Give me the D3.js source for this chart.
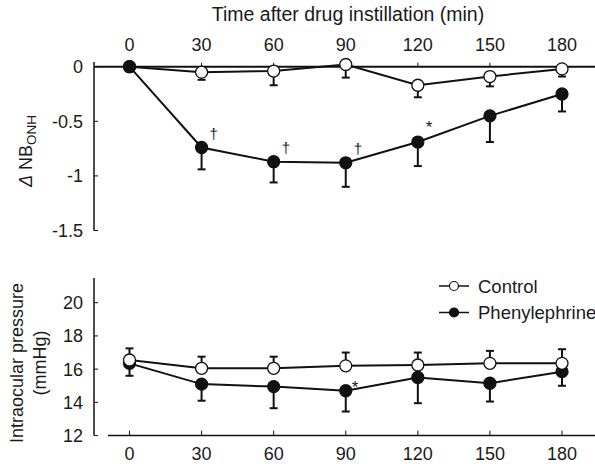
<!DOCTYPE html>
<html>
<head>
<meta charset="utf-8">
<script src="https://cdn.jsdelivr.net/npm/d3@7"></script>
<style>
  body { margin: 0; background: #fff; }
  text { font-family: "Liberation Sans", Arial, sans-serif; fill: #1a1a1a; }
</style>
</head>
<body>
<div id="chart"></div>
<script>
// data
const times = [0, 30, 60, 90, 120, 150, 180];
const nbControl = [0, -0.05, -0.04, 0.02, -0.17, -0.09, -0.02];
const nbControlSd = [0, 0.07, 0.13, 0.12, 0.11, 0.09, 0.07];
const nbPhenyl = [0, -0.74, -0.87, -0.88, -0.69, -0.45, -0.25];
const nbPhenylSd = [0, 0.2, 0.19, 0.22, 0.22, 0.24, 0.16];
const nbMarks = [["†", 30], ["†", 60], ["†", 90], ["*", 120]];
const iopControl = [16.55, 16.05, 16.05, 16.2, 16.25, 16.35, 16.35];
const iopControlSd = [0.7, 0.7, 0.7, 0.8, 0.75, 0.75, 0.85];
const iopPhenyl = [16.35, 15.1, 14.95, 14.7, 15.5, 15.15, 15.85];
const iopPhenylSd = [0.75, 1.0, 1.3, 1.25, 1.55, 1.1, 0.85];
const iopMarks = [["*", 90]];
const nbTicks = [0, -0.5, -1, -1.5];
const iopTicks = [12, 14, 16, 18, 20];

const W = 595, H = 464;
const svg = d3.select("#chart").append("svg").attr("width", W).attr("height", H);

const x = d3.scaleLinear().domain([0, 180]).range([129.5, 562]);
const yTop = d3.scaleLinear().domain([0, -1.5]).range([66.7, 230.5]);
const yBot = d3.scaleLinear().domain([12, 20]).range([435.6, 302.7]);

const ink = "#111";
const fs = 18;

// ---- top panel axes
svg.append("line").attr("x1", 94).attr("x2", 94).attr("y1", 62).attr("y2", yTop(-1.5))
  .attr("stroke", ink).attr("stroke-width", 1.5);
svg.append("line").attr("x1", 94).attr("x2", 595).attr("y1", yTop(0)).attr("y2", yTop(0))
  .attr("stroke", ink).attr("stroke-width", 2);
svg.selectAll(".ttop").data(times).join("line")
  .attr("x1", d => x(d)).attr("x2", d => x(d)).attr("y1", yTop(0)).attr("y2", yTop(0) - 4)
  .attr("stroke", ink).attr("stroke-width", 1);
svg.selectAll(".ltop").data(times).join("text")
  .attr("x", d => x(d)).attr("y", 51).attr("text-anchor", "middle")
  .attr("font-size", fs).text(d => d);
svg.selectAll(".ytop").data(nbTicks).join("line")
  .attr("x1", 94).attr("x2", 98).attr("y1", d => yTop(d)).attr("y2", d => yTop(d))
  .attr("stroke", ink).attr("stroke-width", 1);
svg.selectAll(".yltop").data(nbTicks).join("text")
  .attr("x", 83).attr("y", d => yTop(d) + 6.5).attr("text-anchor", "end")
  .attr("font-size", fs).text(d => d);
svg.append("text").attr("x", 348).attr("y", 21).attr("text-anchor", "middle")
  .attr("font-size", 19.5).text("Time after drug instillation (min)");
const lab = svg.append("text").attr("transform", "translate(32,151) rotate(-90)")
  .attr("text-anchor", "middle").attr("font-size", fs);
lab.append("tspan").attr("font-style", "italic").text("Δ");
lab.append("tspan").text(" NB");
lab.append("tspan").attr("font-size", 13.5).attr("dy", 4).text("ONH");

// ---- bottom panel axes
svg.append("line").attr("x1", 94).attr("x2", 94).attr("y1", 278).attr("y2", yBot(12))
  .attr("stroke", ink).attr("stroke-width", 1.5);
svg.append("line").attr("x1", 108).attr("x2", 595).attr("y1", yBot(12)).attr("y2", yBot(12))
  .attr("stroke", ink).attr("stroke-width", 1.5);
svg.selectAll(".tbot").data(times).join("line")
  .attr("x1", d => x(d)).attr("x2", d => x(d)).attr("y1", yBot(12)).attr("y2", yBot(12) - 5)
  .attr("stroke", ink).attr("stroke-width", 1);
svg.selectAll(".lbot").data(times).join("text")
  .attr("x", d => x(d)).attr("y", 460).attr("text-anchor", "middle")
  .attr("font-size", fs).text(d => d);
svg.selectAll(".ybot").data(iopTicks).join("line")
  .attr("x1", 94).attr("x2", 98).attr("y1", d => yBot(d)).attr("y2", d => yBot(d))
  .attr("stroke", ink).attr("stroke-width", 1);
svg.selectAll(".ylbot").data(iopTicks).join("text")
  .attr("x", 83).attr("y", d => yBot(d) + 6.5).attr("text-anchor", "end")
  .attr("font-size", fs).text(d => d);
svg.append("text").attr("transform", "translate(23,363) rotate(-90)")
  .attr("text-anchor", "middle").attr("font-size", fs).text("Intraocular pressure");
svg.append("text").attr("transform", "translate(46,363) rotate(-90)")
  .attr("text-anchor", "middle").attr("font-size", fs).text("(mmHg)");

// ---- series drawing helper
function series(y, vals, sds, dir, filled) {
  const g = svg.append("g");
  const pts = times.map((t, i) => ({ t, v: vals[i], sd: sds[i] }));
  g.selectAll(".err").data(pts.filter(p => p.sd > 0)).join("line")
    .attr("x1", d => x(d.t)).attr("x2", d => x(d.t))
    .attr("y1", d => y(d.v)).attr("y2", d => y(d.v + dir * d.sd))
    .attr("stroke", ink).attr("stroke-width", 2);
  g.selectAll(".cap").data(pts.filter(p => p.sd > 0)).join("line")
    .attr("x1", d => x(d.t) - 4).attr("x2", d => x(d.t) + 4)
    .attr("y1", d => y(d.v + dir * d.sd)).attr("y2", d => y(d.v + dir * d.sd))
    .attr("stroke", ink).attr("stroke-width", 2);
  g.append("path").datum(pts)
    .attr("d", d3.line().x(d => x(d.t)).y(d => y(d.v)))
    .attr("fill", "none").attr("stroke", ink).attr("stroke-width", 2);
  g.selectAll("circle").data(pts).join("circle")
    .attr("cx", d => x(d.t)).attr("cy", d => y(d.v)).attr("r", 6)
    .attr("fill", filled ? ink : "#fff").attr("stroke", ink).attr("stroke-width", 1.3);
}

series(yTop, nbControl, nbControlSd, -1, false);
series(yTop, nbPhenyl, nbPhenylSd, -1, true);
series(yBot, iopPhenyl, iopPhenylSd, -1, true);
series(yBot, iopControl, iopControlSd, 1, false);

// significance marks
svg.selectAll(".mtop").data(nbMarks).join("text")
  .attr("x", d => x(d[1]) + 8).attr("y", d => yTop(nbPhenyl[times.indexOf(d[1])]) - 9)
  .attr("font-size", d => d[0] === "*" ? 17 : 15).attr("fill", "#444").text(d => d[0]);
svg.selectAll(".mbot").data(iopMarks).join("text")
  .attr("x", d => x(d[1]) + 6).attr("y", d => yBot(iopPhenyl[times.indexOf(d[1])]) + 2)
  .attr("font-size", 17).attr("fill", "#444").text(d => d[0]);

// legend
const legend = [["Control", false, 286], ["Phenylephrine", true, 312.5]];
const lg = svg.selectAll(".lg").data(legend).join("g");
lg.append("line").attr("x1", 439).attr("x2", 469).attr("y1", d => d[2]).attr("y2", d => d[2])
  .attr("stroke", ink).attr("stroke-width", 1.5);
lg.append("circle").attr("cx", 454).attr("cy", d => d[2]).attr("r", 4.5)
  .attr("fill", d => d[1] ? ink : "#fff").attr("stroke", ink).attr("stroke-width", 1.2);
lg.append("text").attr("x", 478).attr("y", d => d[2] + 6.5).attr("font-size", 18.5).text(d => d[0]);
</script>
</body>
</html>
